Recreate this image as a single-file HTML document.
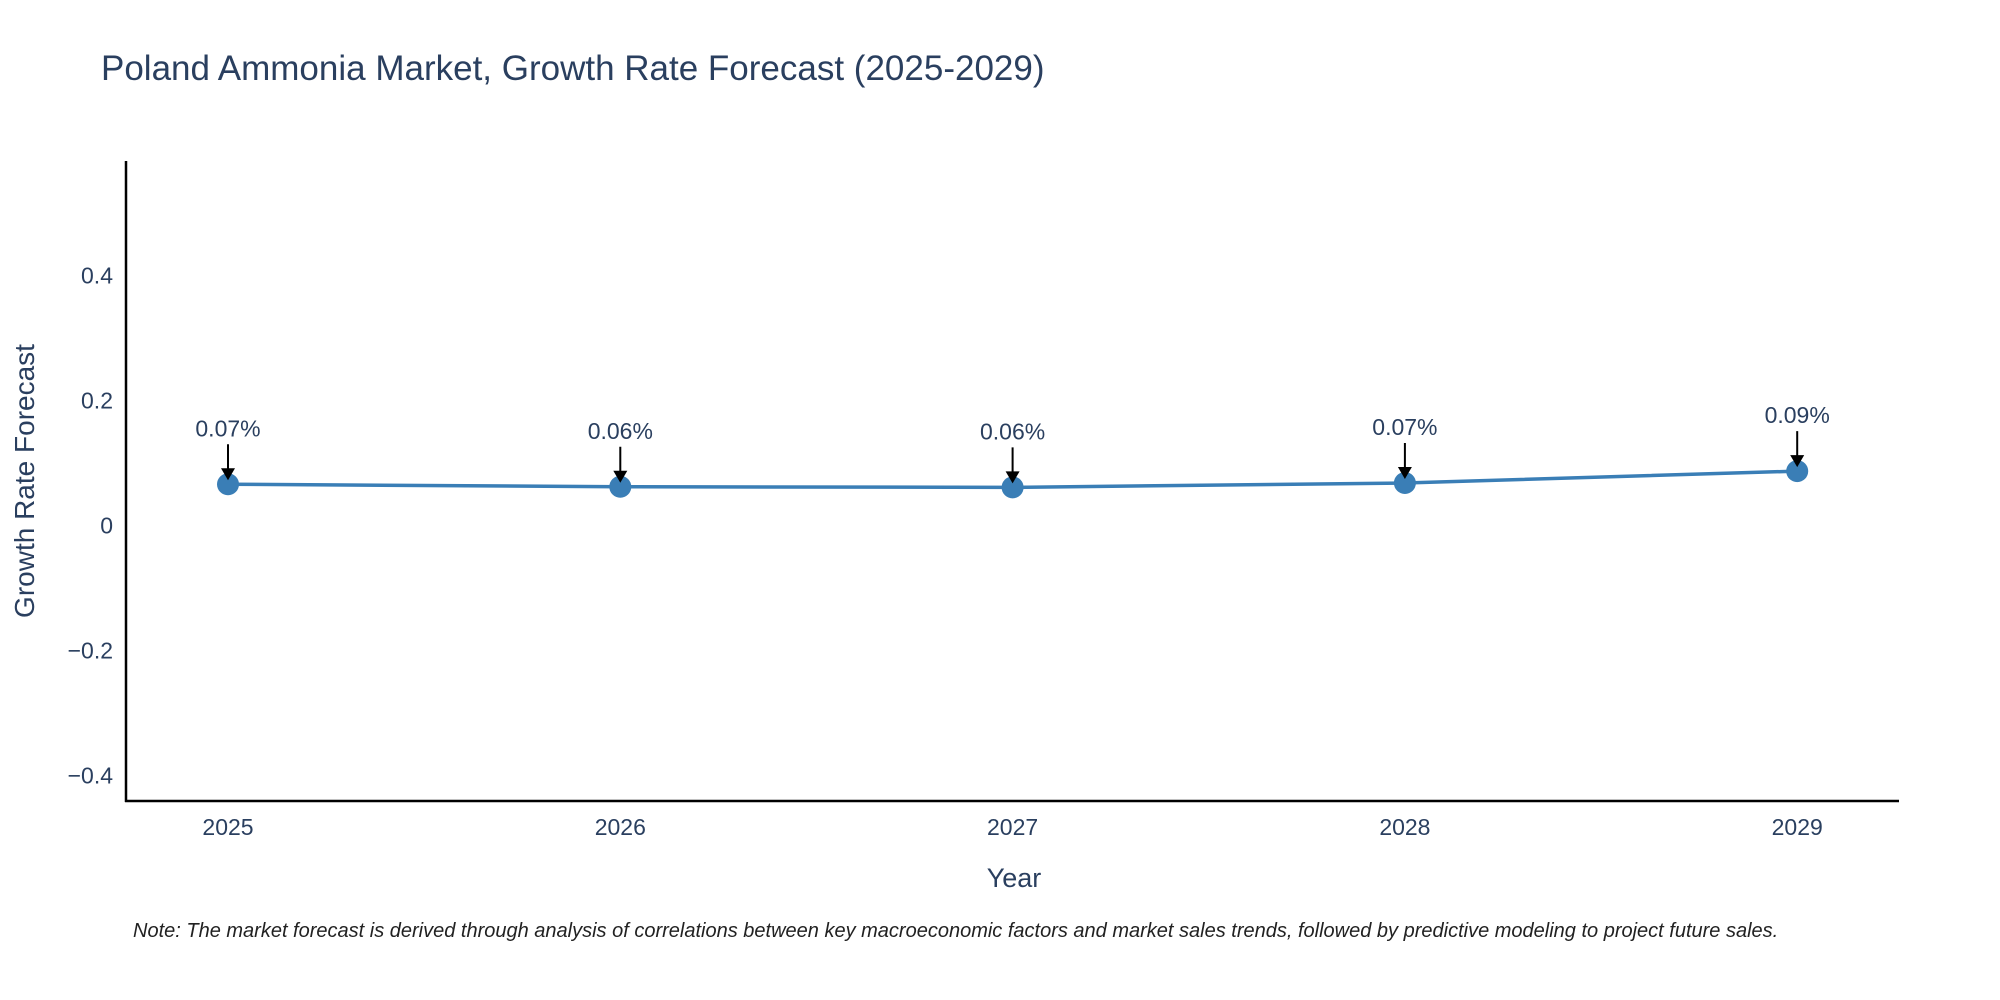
<!DOCTYPE html>
<html><head><meta charset="utf-8"><style>
body{margin:0;background:#fff;}
svg{display:block;font-family:"Liberation Sans",sans-serif;}
</style></head><body>
<svg id="chart" width="2000" height="1000" viewBox="0 0 2000 1000">
<text x="101" y="80" font-size="35" fill="#2a3f5f">Poland Ammonia Market, Growth Rate Forecast (2025-2029)</text>
<g id="yticks"></g>
<g id="xticks"></g>
<line x1="126" y1="161" x2="126" y2="802" stroke="#000" stroke-width="2.5"/>
<line x1="125" y1="801" x2="1899" y2="801" stroke="#000" stroke-width="2.5"/>
<text transform="translate(34,481) rotate(-90)" text-anchor="middle" font-size="28" fill="#2a3f5f">Growth Rate Forecast</text>
<text x="1014" y="887" text-anchor="middle" font-size="27" fill="#2a3f5f">Year</text>
<g id="series"></g>
<g id="annots"></g>
<text x="133" y="937" font-size="20" font-style="italic" fill="#222">Note: The market forecast is derived through analysis of correlations between key macroeconomic factors and market sales trends, followed by predictive modeling to project future sales.</text>
</svg>
<script>
const years = ["2025","2026","2027","2028","2029"];
const growth = [0.066, 0.062, 0.061, 0.068, 0.087];
const labels = ["0.07%","0.06%","0.06%","0.07%","0.09%"];
const yTickValues = [-0.4,-0.2,0,0.2,0.4];
const yTickLabels = ["\u22120.4","\u22120.2","0","0.2","0.4"];

const NS="http://www.w3.org/2000/svg";
function xPos(i){return 228+i*392.3;}
function yPos(v){return 525.5-v*625;}
function mk(tag,attrs,parent){const e=document.createElementNS(NS,tag);for(const k in attrs)e.setAttribute(k,attrs[k]);parent.appendChild(e);return e;}

const yt=document.getElementById('yticks');
yTickValues.forEach((v,i)=>{
  const t=mk('text',{x:113,y:yPos(v)+8,'text-anchor':'end','font-size':23,fill:'#2a3f5f'},yt);
  
  
  t.textContent=yTickLabels[i];
});
const xt=document.getElementById('xticks');
years.forEach((y,i)=>{
  const t=mk('text',{x:xPos(i),y:835,'text-anchor':'middle','font-size':23,fill:'#2a3f5f'},xt);
  
  
  t.textContent=y;
});
const s=document.getElementById('series');
const pl=mk('polyline',{points:growth.map((v,i)=>xPos(i)+','+yPos(v)).join(' '),fill:'none',stroke:'#3a7eb6','stroke-width':3.5},s);


growth.forEach((v,i)=>{
  const c=mk('circle',{cx:xPos(i),cy:yPos(v),r:11,fill:'#3a7eb6'},s);
  
  
});
const a=document.getElementById('annots');
growth.forEach((v,i)=>{
  const x=xPos(i),y=yPos(v);
  const ln=mk('line',{x1:x,y1:y-40,x2:x,y2:y-12,stroke:'#000','stroke-width':2},a);
  
  
  const hd=mk('polygon',{points:`${x-7},${y-16} ${x+7},${y-16} ${x},${y-4}`,fill:'#000'},a);
  
  
  const t=mk('text',{x:x,y:y-48,'text-anchor':'middle','font-size':23,fill:'#2a3f5f'},a);
  
  
  t.textContent=labels[i];
});
</script>
</body></html>
